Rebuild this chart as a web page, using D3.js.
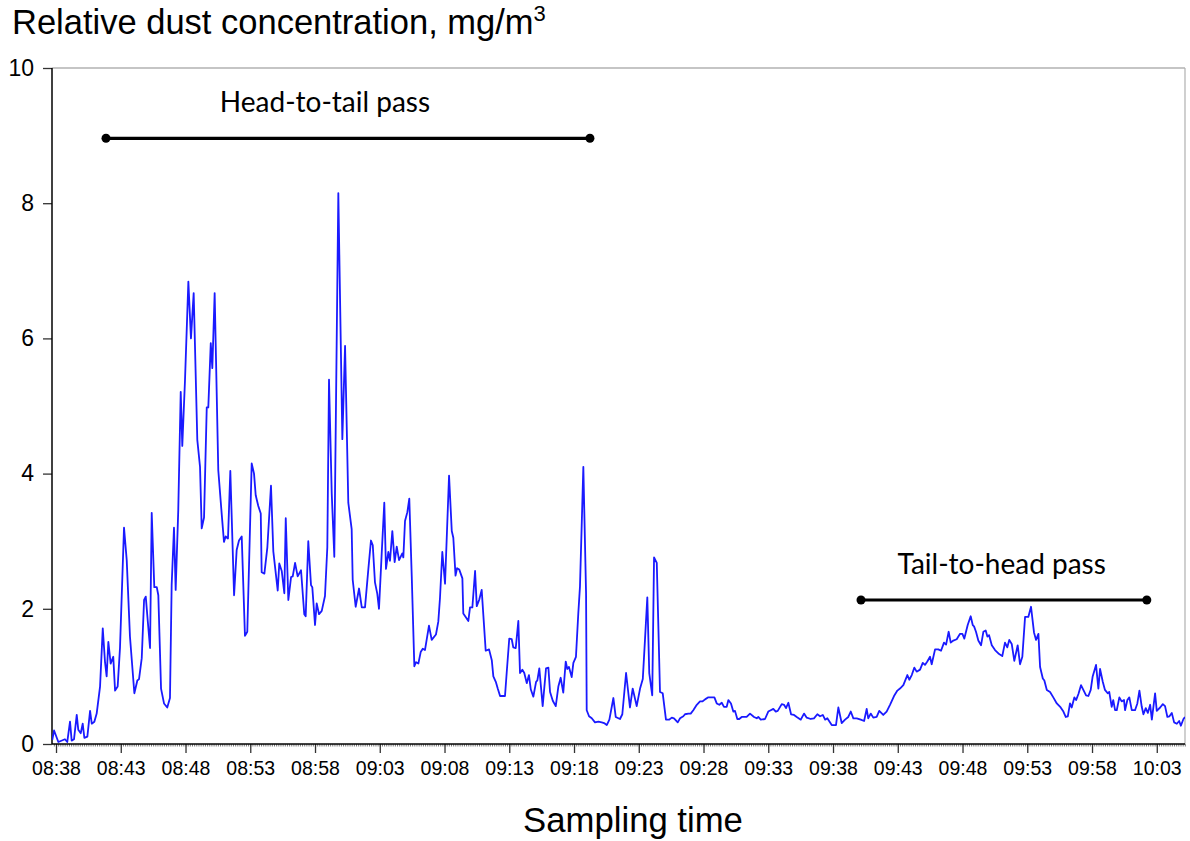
<!DOCTYPE html>
<html>
<head>
<meta charset="utf-8">
<script src="https://cdn.jsdelivr.net/npm/d3@7"></script>
<style>
  body { margin: 0; background: #fff; }
  svg { display: block; }
</style>
</head>
<body>
<svg id="chart" width="1190" height="841"></svg>
<script>
// sampling time, minutes after 08:00
const tMin = [
  37.71,37.85,38.18,38.69,38.87,39.08,39.21,39.39,39.60,39.72,
  39.91,40.06,40.19,40.42,40.63,40.76,40.96,41.14,41.40,41.61,
  41.78,41.91,42.04,42.22,42.42,42.56,42.76,42.94,43.25,43.46,
  43.71,44.05,44.28,44.41,44.62,44.80,44.93,45.08,45.26,45.39,
  45.59,45.78,45.90,46.11,46.34,46.59,46.80,46.93,47.11,47.24,
  47.44,47.63,47.75,47.96,48.22,48.42,48.63,48.91,49.12,49.25,
  49.43,49.64,49.76,49.95,50.07,50.25,50.53,50.80,50.97,51.10,
  51.28,51.46,51.75,51.95,52.13,52.34,52.59,52.77,53.11,53.29,
  53.42,53.62,53.81,53.88,54.09,54.32,54.60,54.78,55.12,55.24,
  55.43,55.63,55.74,55.94,56.15,56.28,56.46,56.66,56.92,57.17,
  57.28,57.48,57.69,57.79,58.00,58.13,58.31,58.52,58.77,58.95,
  59.08,59.29,59.49,59.80,60.11,60.32,60.57,60.83,60.91,61.14,
  61.40,61.61,61.86,62.12,62.32,62.46,62.63,62.81,62.94,63.15,
  63.35,63.48,63.66,63.79,63.97,64.15,64.31,64.49,64.74,64.82,
  64.95,65.13,65.28,65.47,65.67,65.80,65.98,66.16,66.32,66.49,
  66.80,67.01,67.34,67.52,67.65,67.83,68.04,68.35,68.56,68.68,
  68.85,68.97,69.14,69.38,69.45,69.66,69.84,69.97,70.15,70.36,
  70.49,70.69,70.87,71.18,71.44,71.65,71.77,71.96,72.11,72.29,
  72.67,72.80,73.00,73.19,73.31,73.50,73.70,73.83,74.01,74.16,
  74.35,74.52,74.66,74.86,75.07,75.17,75.32,75.58,75.84,76.02,
  76.15,76.36,76.59,76.79,76.97,77.17,77.36,77.48,77.61,77.82,
  77.95,78.15,78.33,78.46,78.72,78.93,78.98,79.16,79.37,79.62,
  79.88,80.14,80.32,80.53,80.73,81.04,81.22,81.55,81.73,82.02,
  82.32,82.53,82.84,83.10,83.31,83.48,83.66,83.81,84.04,84.18,
  84.39,84.64,84.85,85.10,85.34,85.55,85.72,86.01,86.19,86.44,
  86.57,86.83,87.01,87.21,87.48,87.73,87.91,88.12,88.37,88.84,
  89.02,89.22,89.41,89.58,89.79,89.92,90.12,90.30,90.43,90.61,
  90.76,90.95,91.33,91.59,91.90,92.11,92.23,92.42,92.75,93.00,
  93.19,93.39,93.58,93.73,94.04,94.22,94.37,94.55,94.76,94.99,
  95.20,95.51,95.76,95.97,96.28,96.53,96.79,97.00,97.21,97.39,
  97.56,97.90,98.23,98.41,98.67,98.93,99.18,99.37,99.57,99.83,
  100.14,100.40,100.60,100.72,100.91,101.11,101.37,101.57,101.88,102.14,
  102.40,102.71,102.97,103.17,103.43,103.74,103.89,104.08,104.28,104.46,
  104.72,104.93,105.10,105.28,105.49,105.62,105.88,106.13,106.34,106.57,
  106.73,106.93,107.09,107.29,107.55,107.81,107.99,108.14,108.40,108.63,
  108.79,108.89,109.04,109.22,109.43,109.61,109.79,109.92,110.05,110.26,
  110.51,110.77,111.07,111.28,111.46,111.61,111.80,112.00,112.26,112.44,
  112.62,112.83,113.08,113.29,113.52,113.68,113.86,113.99,114.20,114.32,
  114.51,114.76,115.01,115.28,115.58,115.79,115.97,116.13,116.30,116.43,
  116.64,116.77,116.95,117.15,117.33,117.54,117.72,117.90,118.05,118.31,
  118.49,118.62,118.83,119.00,119.21,119.33,119.52,119.64,119.78,119.91,
  120.11,120.29,120.47,120.55,120.73,120.88,121.07,121.32,121.50,121.66,
  121.84,121.97,122.15,122.31,122.49,122.62,122.87,123.00,123.26,123.47,
  123.64,123.82,123.98,124.16,124.34,124.55,124.73,124.86,125.06,125.18
];

// relative dust concentration, mg/m3
const conc = [
  0.06,0.20,0.03,0.07,0.03,0.33,0.05,0.07,0.43,0.21,
  0.16,0.30,0.09,0.11,0.49,0.30,0.33,0.45,0.85,1.71,
  1.22,1.00,1.51,1.19,1.29,0.79,0.85,1.42,3.20,2.72,
  1.59,0.75,0.94,0.96,1.27,2.13,2.18,1.83,1.42,3.42,
  2.32,2.32,2.20,0.82,0.60,0.54,0.68,2.35,3.20,2.28,
  3.46,5.21,4.41,5.38,6.84,6.00,6.67,4.50,4.10,3.19,
  3.35,4.98,4.98,5.93,5.56,6.67,4.05,3.39,2.99,3.07,
  3.04,4.04,2.20,2.87,3.01,3.07,1.60,1.66,4.15,4.00,
  3.68,3.52,3.41,2.54,2.52,2.91,3.82,2.85,2.27,2.67,
  2.56,2.23,3.34,2.13,2.47,2.48,2.68,2.48,2.57,1.92,
  1.89,3.00,2.35,2.32,1.76,2.08,1.92,1.97,2.19,2.91,
  5.39,3.71,2.77,8.15,4.51,5.89,3.57,3.18,2.43,2.03,
  2.30,2.02,2.02,2.59,3.01,2.94,2.39,2.22,2.00,2.82,
  3.57,2.59,2.84,2.71,3.15,2.69,2.92,2.72,2.82,2.76,
  3.30,3.43,3.63,2.48,1.15,1.21,1.19,1.36,1.41,1.39,
  1.75,1.54,1.62,1.81,2.16,2.84,2.37,3.97,3.15,3.05,
  2.49,2.60,2.58,2.45,1.93,1.87,1.82,2.02,2.02,2.56,
  2.04,2.14,2.28,1.38,1.40,1.24,1.00,0.92,0.82,0.71,
  0.71,1.05,1.56,1.55,1.43,1.42,1.82,1.05,1.10,1.05,
  0.90,1.02,0.81,0.70,0.92,0.94,1.12,0.56,1.12,1.13,
  0.77,0.64,0.56,0.85,0.98,0.76,1.22,1.11,1.14,0.99,
  1.20,1.29,1.93,2.33,4.10,2.23,0.50,0.41,0.38,0.32,
  0.33,0.32,0.31,0.28,0.36,0.68,0.40,0.37,0.44,1.05,
  0.54,0.82,0.56,0.82,0.96,1.54,2.17,1.05,0.72,2.76,
  2.68,0.77,0.75,0.36,0.36,0.39,0.38,0.32,0.38,0.41,
  0.44,0.45,0.45,0.50,0.58,0.63,0.63,0.66,0.69,0.69,
  0.60,0.58,0.61,0.55,0.55,0.65,0.60,0.48,0.49,0.37,
  0.37,0.40,0.40,0.45,0.40,0.38,0.40,0.36,0.37,0.48,
  0.50,0.52,0.48,0.49,0.59,0.58,0.53,0.61,0.44,0.43,
  0.40,0.36,0.45,0.39,0.37,0.38,0.44,0.41,0.43,0.36,
  0.38,0.28,0.28,0.54,0.31,0.36,0.40,0.48,0.38,0.38,
  0.36,0.34,0.52,0.38,0.45,0.39,0.40,0.49,0.43,0.48,
  0.58,0.71,0.79,0.82,0.87,1.02,0.95,1.02,1.13,1.07,
  1.10,1.20,1.17,1.22,1.29,1.18,1.40,1.40,1.38,1.50,
  1.47,1.66,1.50,1.53,1.55,1.63,1.63,1.56,1.76,1.89,
  1.76,1.74,1.66,1.53,1.46,1.66,1.68,1.59,1.61,1.46,
  1.39,1.34,1.30,1.50,1.43,1.54,1.48,1.23,1.46,1.18,
  1.29,1.88,1.88,2.03,1.65,1.54,1.63,1.14,0.97,0.94,
  0.80,0.77,0.69,0.60,0.54,0.48,0.40,0.41,0.60,0.54,
  0.69,0.65,0.74,0.87,0.80,0.72,0.71,0.80,1.00,1.17,
  0.82,1.11,0.92,0.80,0.75,0.77,0.55,0.65,0.50,0.50,
  0.69,0.63,0.65,0.50,0.65,0.69,0.50,0.50,0.60,0.79,
  0.55,0.44,0.53,0.46,0.58,0.36,0.75,0.49,0.54,0.59,
  0.56,0.40,0.41,0.46,0.32,0.30,0.34,0.27,0.37,0.40
];

const xTickLabels = ["08:38","08:43","08:48","08:53","08:58","09:03","09:08","09:13","09:18",
                     "09:23","09:28","09:33","09:38","09:43","09:48","09:53","09:58","10:03"];
const yTicks = [0, 2, 4, 6, 8, 10];

// the two passes: label, start/end (minutes after 08:00), level (mg/m3), label centre
const passNames = ["Head-to-tail pass", "Tail-to-head pass"];
const passStart = [41.86, 100.16];
const passEnd   = [79.23, 122.23];
const passLevel = [8.96, 2.13];
const passTextAt = [58.77, 111.03];

const svg = d3.select('#chart');
const plotL = 52, plotR = 1185, plotT = 68, plotB = 744;

const parseHM = d3.timeParse('%H:%M');
const base = parseHM('08:00');
const toDate = mins => new Date(base.getTime() + mins * 60000);

const x = d3.scaleTime()
  .domain([toDate(37.69), toDate(125.18)])
  .range([plotL, plotR]);
const y = d3.scaleLinear().domain([0, 10]).range([plotB, plotT]);

const fontAxis = 'Liberation Sans, Arial, sans-serif';

// frame (top + right, grey)
svg.append('line').attr('x1', plotL).attr('x2', plotR).attr('y1', plotT).attr('y2', plotT)
  .attr('stroke', '#8c8c8c').attr('stroke-width', 1.2);
svg.append('line').attr('x1', plotR).attr('x2', plotR).attr('y1', plotT).attr('y2', plotB)
  .attr('stroke', '#b0b0b0').attr('stroke-width', 1.2);

// minor ticks every 10 s
const minorAxis = d3.axisBottom(x)
  .tickValues(d3.timeSecond.every(10).range(x.domain()[0], x.domain()[1]))
  .tickSize(2.5).tickFormat('');
const gMinor = svg.append('g').attr('transform', `translate(0,${plotB})`).call(minorAxis);
gMinor.select('.domain').remove();
gMinor.selectAll('line').attr('stroke', '#555').attr('stroke-width', 0.8);

// x axis
const xAxis = d3.axisBottom(x)
  .tickValues(xTickLabels.map(parseHM))
  .tickFormat(d3.timeFormat('%H:%M'))
  .tickSize(9).tickPadding(8);
const gx = svg.append('g').attr('transform', `translate(0,${plotB})`).call(xAxis);
gx.select('.domain').remove();
gx.selectAll('line').attr('stroke', '#333').attr('stroke-width', 1.3);
gx.selectAll('text').attr('font-family', fontAxis).attr('font-size', 19.5).attr('fill', '#000');

// y axis
const yAxis = d3.axisLeft(y).tickValues(yTicks).tickSize(9).tickPadding(9);
const gy = svg.append('g').attr('transform', `translate(${plotL},0)`).call(yAxis);
gy.select('.domain').remove();
gy.selectAll('line').attr('stroke', '#333').attr('stroke-width', 1.3);
gy.selectAll('text').attr('font-family', fontAxis).attr('font-size', 23).attr('fill', '#000');

// axis lines
svg.append('line').attr('x1', plotL).attr('x2', plotR).attr('y1', plotB).attr('y2', plotB)
  .attr('stroke', '#000').attr('stroke-width', 1.5);
svg.append('line').attr('x1', plotL).attr('x2', plotL).attr('y1', plotT).attr('y2', plotB)
  .attr('stroke', '#000').attr('stroke-width', 1.5);

// data line
svg.append('clipPath').attr('id', 'plotClip')
  .append('rect').attr('x', plotL).attr('y', plotT).attr('width', plotR - plotL).attr('height', plotB - plotT);

const line = d3.line()
  .x((d, i) => x(toDate(tMin[i])))
  .y(d => y(d));

svg.append('path')
  .datum(conc)
  .attr('clip-path', 'url(#plotClip)')
  .attr('fill', 'none')
  .attr('stroke', '#1a1aff')
  .attr('stroke-width', 1.8)
  .attr('stroke-linejoin', 'round')
  .attr('d', line);

// pass bars
passNames.forEach((name, i) => {
  const g = svg.append('g');
  const x1 = x(toDate(passStart[i])), x2 = x(toDate(passEnd[i])), yy = y(passLevel[i]);
  g.append('line').attr('x1', x1).attr('x2', x2).attr('y1', yy).attr('y2', yy)
    .attr('stroke', '#000').attr('stroke-width', 3.2);
  g.selectAll('circle').data([x1, x2]).join('circle')
    .attr('cx', d => d).attr('cy', yy).attr('r', 4.5).attr('fill', '#000');
  g.append('text')
    .attr('x', x(toDate(passTextAt[i])))
    .attr('y', yy - 26)
    .attr('text-anchor', 'middle')
    .attr('font-family', 'Lato, sans-serif')
    .attr('font-size', 28)
    .attr('fill', '#000')
    .text(name);
});

// titles
const title = svg.append('text')
  .attr('x', 12).attr('y', 34)
  .attr('font-family', fontAxis).attr('font-size', 34.5).attr('fill', '#000');
title.append('tspan').text('Relative dust concentration, mg/m');
title.append('tspan').attr('font-size', 22).attr('dy', -13).text('3');

svg.append('text')
  .attr('x', 633).attr('y', 832)
  .attr('text-anchor', 'middle')
  .attr('font-family', fontAxis).attr('font-size', 34.7).attr('fill', '#000')
  .text('Sampling time');
</script>
</body>
</html>
